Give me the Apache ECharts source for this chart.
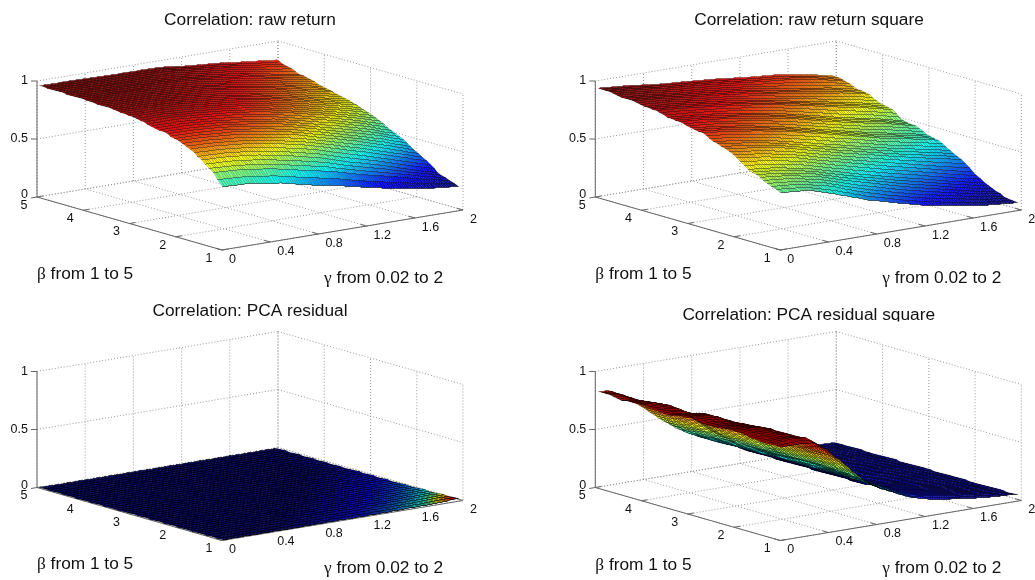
<!DOCTYPE html>
<html><head><meta charset="utf-8">
<style>html,body{margin:0;padding:0;background:#fff}#c{width:1035px;height:580px}</style>
<script src="https://cdn.jsdelivr.net/npm/echarts@6/dist/echarts.min.js"></script>
</head><body><div id="c"></div>
<script>
// Tick labels
const betaTicks = [1, 2, 3, 4, 5];
const gammaTicks = [0, 0.4, 0.8, 1.2, 1.6, 2];
const zTicks = [0, 0.5, 1];
const titles = ['Correlation: raw return', 'Correlation: raw return square', 'Correlation: PCA residual', 'Correlation: PCA residual square'];

// Values. Rows follow the beta list, columns the gamma list of each panel.
// Series data holds only these read cells. The fine mesh facets are a draw-time bilinear shading
// between them (see renderItem), not measured values.
const betaRows = [5, 4.75, 4.5, 4.25, 4, 3.75, 3.5, 3.25, 3, 2.75, 2.5, 2.25, 2, 1.75, 1.5, 1.25, 1.05];
const betaRowsCoarse = [5, 4.5, 4, 3.5, 3, 2.5, 2, 1.5, 1.05];
const gammaCols = [0.02, 0.25, 0.5, 0.75, 1, 1.25, 1.5, 1.75, 1.98];
const gammaColsFine = [0.02, 0.1, 0.2, 0.3, 0.4, 0.55, 0.7, 0.85, 1.1, 1.25, 1.5, 1.75, 1.98];

const rawReturn = [
  [.96,.96,.955,.95,.95,.92,.90,.87,.845],
  [.958,.958,.953,.948,.945,.915,.89,.85,.82],
  [.955,.955,.95,.945,.93,.90,.87,.82,.78],
  [.953,.953,.948,.94,.925,.89,.855,.805,.76],
  [.95,.95,.945,.93,.91,.87,.83,.78,.73],
  [.945,.945,.937,.92,.90,.86,.815,.76,.71],
  [.94,.94,.93,.91,.88,.84,.79,.73,.68],
  [.933,.932,.92,.895,.87,.825,.77,.71,.655],
  [.92,.92,.905,.88,.85,.80,.74,.68,.62],
  [.905,.905,.885,.86,.825,.77,.71,.645,.575],
  [.88,.88,.86,.83,.79,.73,.67,.60,.52],
  [.86,.855,.835,.80,.755,.69,.62,.55,.47],
  [.83,.82,.80,.76,.71,.64,.57,.49,.41],
  [.785,.775,.75,.705,.65,.575,.50,.42,.345],
  [.72,.71,.68,.63,.57,.49,.42,.34,.27],
  [.64,.625,.59,.535,.48,.41,.35,.285,.235],
  [.54,.53,.49,.43,.38,.32,.27,.23,.205]
];
const rawSquare = [
  [.94,.92,.89,.87,.85,.82,.80,.76,.705],
  [.935,.915,.885,.865,.84,.81,.785,.745,.69],
  [.92,.90,.87,.85,.82,.78,.74,.70,.65],
  [.915,.895,.865,.84,.81,.765,.725,.685,.635],
  [.895,.88,.85,.82,.78,.73,.68,.63,.58],
  [.89,.87,.84,.81,.77,.72,.665,.615,.56],
  [.86,.84,.81,.77,.72,.66,.60,.55,.49],
  [.85,.83,.795,.755,.705,.64,.585,.535,.475],
  [.825,.80,.76,.71,.65,.59,.53,.48,.43],
  [.81,.785,.745,.695,.635,.575,.51,.46,.41],
  [.765,.735,.69,.63,.57,.51,.45,.40,.35],
  [.73,.70,.655,.59,.525,.465,.405,.35,.30],
  [.68,.65,.60,.53,.465,.40,.34,.275,.22],
  [.61,.585,.535,.465,.395,.33,.27,.205,.16],
  [.57,.545,.495,.415,.345,.275,.215,.155,.11],
  [.52,.50,.44,.35,.275,.21,.16,.11,.08],
  [.49,.47,.39,.30,.23,.165,.12,.085,.065]
];
const pcaResidual = [
  [.001,.001,.001,.001,.001,.001,.001,.001,.001],
  [.001,.001,.001,.001,.001,.001,.001,.001,.001],
  [.001,.001,.001,.001,.001,.001,.001,.001,.002],
  [.001,.001,.001,.001,.001,.001,.001,.001,.002],
  [.001,.001,.001,.001,.001,.001,.001,.002,.003],
  [.001,.001,.001,.001,.001,.001,.002,.003,.004],
  [.001,.001,.001,.001,.001,.002,.003,.004,.006],
  [.001,.001,.001,.001,.002,.003,.004,.006,.010],
  [.001,.001,.001,.002,.003,.004,.006,.010,.020]
];
const pcaSquare = [
  [.83,.82,.76,.70,.62,.49,.38,.30,.20,.11,.08,.06,.05],
  [.83,.82,.77,.70,.62,.49,.38,.30,.20,.11,.08,.06,.05],
  [.81,.80,.77,.71,.63,.50,.39,.30,.20,.11,.085,.065,.055],
  [.82,.82,.78,.72,.64,.51,.40,.31,.20,.11,.08,.06,.05],
  [.83,.83,.80,.74,.66,.53,.41,.31,.20,.11,.08,.065,.05],
  [.81,.81,.79,.73,.65,.52,.41,.31,.20,.11,.085,.06,.055],
  [.80,.80,.78,.74,.66,.53,.42,.32,.20,.11,.08,.06,.05],
  [.82,.82,.81,.76,.68,.55,.42,.32,.20,.11,.08,.065,.05],
  [.83,.83,.82,.77,.69,.56,.43,.32,.20,.11,.085,.06,.055],
  [.81,.81,.80,.77,.69,.56,.43,.32,.20,.11,.08,.06,.05],
  [.81,.81,.81,.78,.70,.57,.43,.32,.20,.11,.08,.065,.05],
  [.82,.83,.82,.79,.71,.58,.43,.33,.20,.12,.085,.06,.055],
  [.83,.84,.83,.80,.72,.58,.43,.33,.20,.13,.09,.06,.05],
  [.81,.82,.82,.80,.72,.58,.43,.32,.20,.14,.095,.065,.05],
  [.80,.81,.81,.80,.72,.58,.42,.32,.19,.145,.10,.07,.055],
  [.80,.81,.82,.81,.73,.58,.42,.31,.19,.15,.105,.075,.05],
  [.80,.80,.80,.79,.71,.56,.40,.30,.18,.14,.098,.07,.058]
];
const panelData = [rawReturn, rawSquare, pcaResidual, pcaSquare];
const panelGamma = [gammaCols, gammaCols, gammaCols, gammaColsFine];
const panelBeta = [betaRows, betaRows, betaRowsCoarse, betaRows];

// Layout of the four panels and the 3D view
const PANEL_X = [0, 558.3, 0, 558.3], PANEL_Y = [0, 0, 290.5, 290.5];
const PW = 476, PH = 289;
const FRONT = [222, 250], BETA_V = [-185, -53], GAMMA_V = [241, -40], Z_H = 116;
function proj(g, b, z) {
  const f = g / 2, t = (b - 1) / 4;
  return [FRONT[0] + BETA_V[0] * t + GAMMA_V[0] * f, FRONT[1] + BETA_V[1] * t + GAMMA_V[1] * f - Z_H * z];
}
const STEP_G = 0.02, STEP_B = 0.1;   // mesh facet size of the drawn surface
const EDGE_ALPHA = [0.26, 0.26, 0.55, 0.3];
const ROW_ALPHA = [0.55, 0.55, 0.6, 0.6];

function jet(v) {
  v = Math.max(0, Math.min(1, v));
  const c = x => Math.round(255 * Math.max(0, Math.min(1, 1.5 - Math.abs(4 * v - x))));
  return 'rgb(' + c(3) + ',' + c(2) + ',' + c(1) + ')';
}
const snap = p => [Math.round(p[0]) + 0.5, Math.round(p[1]) + 0.5];

const AXIS_C = '#666', DOT_C = '#9a9a9a';
function frameSegments() {
  const s = [], dot = 1, sol = 0;
  const add = (a, b, k) => s.push([a[0], a[1], b[0], b[1], k]);
  gammaTicks.forEach(g => {
    add(proj(g, 1, 0), proj(g, 5, 0), dot);
    add(proj(g, 5, 0), proj(g, 5, 1), dot);
  });
  betaTicks.forEach(b => {
    add(proj(0, b, 0), proj(2, b, 0), dot);
    add(proj(2, b, 0), proj(2, b, 1), dot);
  });
  zTicks.forEach(z => {
    add(proj(0, 5, z), proj(2, 5, z), dot);
    add(proj(2, 5, z), proj(2, 1, z), dot);
  });
  add(proj(0, 5, 0), proj(0, 5, 1), sol);
  add(proj(0, 5, 0), proj(0, 1, 0), sol);
  add(proj(0, 1, 0), proj(2, 1, 0), sol);
  zTicks.forEach(z => { const p = proj(0, 5, z); add(p, [p[0] - 6, p[1] + (z === 0 ? 1 : 0)], sol); });
  betaTicks.forEach(b => { const p = proj(0, b, 0); add(p, [p[0] + 6, p[1] - 1], sol); });
  gammaTicks.forEach(g => { const p = proj(g, 1, 0); add(p, [p[0] - 6, p[1] - 1.7], sol); });
  return s;
}
function tickTexts() {
  const t = [];
  zTicks.forEach(z => { const p = proj(0, 5, z); t.push([p[0] - 9, p[1] - (z === 0 ? 2 : 0), String(z), 'right']); });
  betaTicks.forEach(b => { const p = proj(0, b, 0); t.push([p[0] - 13, p[1] + 8.5, String(b), 'center']); });
  gammaTicks.forEach(g => { const p = proj(g, 1, 0); t.push([p[0] + 7, p[1] + 9.5, String(g), 'left']); });
  return t;
}

const grid = [], xAxis = [], yAxis = [], series = [], title = [], graphic = [];
const TITLE_X = [250, 809, 250, 808.7], TITLE_TOP = [12, 12, 303, 307];
const LABEL_Y = [[276, 279.5], [276, 279.5], [566, 570], [567, 570]];

panelData.forEach((table, pi) => {
  const gs = panelGamma[pi], bs = panelBeta[pi];
  const flat = table.flat(), zMin = Math.min(...flat), zMax = Math.max(...flat);
  grid.push({ left: PANEL_X[pi], top: PANEL_Y[pi], width: PW, height: PH });
  xAxis.push({ gridIndex: pi, type: 'value', min: 0, max: PW, show: false });
  yAxis.push({ gridIndex: pi, type: 'value', min: 0, max: PH, inverse: true, show: false });
  title.push({ text: titles[pi], left: TITLE_X[pi], top: TITLE_TOP[pi], textAlign: 'center', padding: 0,
    textStyle: { fontFamily: 'Liberation Sans', fontSize: 17.3, fontWeight: 'normal', color: '#111' } });

  series.push({
    type: 'custom', xAxisIndex: pi, yAxisIndex: pi, coordinateSystem: 'cartesian2d', silent: true, clip: false, z: 1,
    data: frameSegments(), encode: { x: 0, y: 1 },
    renderItem(p, api) {
      const a = api.coord([api.value(0), api.value(1)]), b = api.coord([api.value(2), api.value(3)]);
      const dotted = api.value(4) === 1;
      return { type: 'line', shape: { x1: a[0], y1: a[1], x2: b[0], y2: b[1] },
        style: { stroke: dotted ? DOT_C : AXIS_C, lineWidth: 1, lineDash: dotted ? [1, 2] : null } };
    }
  });
  series.push({
    type: 'custom', xAxisIndex: pi, yAxisIndex: pi, coordinateSystem: 'cartesian2d', silent: true, clip: false, z: 2,
    data: tickTexts(), encode: { x: 0, y: 1 },
    renderItem(p, api) {
      const a = api.coord([api.value(0), api.value(1)]);
      return { type: 'text', x: a[0], y: a[1], style: { text: api.value(2), align: api.value(3), verticalAlign: 'middle',
        font: '12.5px "Liberation Sans"', fill: '#111' } };
    },
    dimensions: ['x', 'y', { name: 's', type: 'ordinal' }, { name: 'a', type: 'ordinal' }]
  });

  // One data item per cell of the read table, back corner first so nearer facets paint over farther ones.
  const cells = [];
  for (let r = 0; r < bs.length - 1; r++)
    for (let c = gs.length - 2; c >= 0; c--)
      cells.push([r, c]);
  const edge = 'rgba(0,0,0,' + EDGE_ALPHA[pi] + ')', rowEdge = 'rgba(0,0,0,' + ROW_ALPHA[pi] + ')';
  series.push({
    type: 'custom', xAxisIndex: pi, yAxisIndex: pi, coordinateSystem: 'cartesian2d', silent: true, clip: false, z: 3,
    progressive: 0, animation: false, data: cells, encode: { x: 0, y: 1 },
    renderItem(p, api) {
      const r = api.value(0), c = api.value(1);
      const b0 = bs[r], b1 = bs[r + 1], g0 = gs[c], g1 = gs[c + 1];
      const z00 = table[r][c], z01 = table[r][c + 1], z10 = table[r + 1][c], z11 = table[r + 1][c + 1];
      const nb = Math.max(1, Math.round((b0 - b1) / STEP_B)), ng = Math.max(1, Math.round((g1 - g0) / STEP_G));
      const zAt = (u, v) => (z00 * (1 - u) + z01 * u) * (1 - v) + (z10 * (1 - u) + z11 * u) * v;
      const pt = (u, v) => snap(api.coord(proj(g0 + (g1 - g0) * u, b0 + (b1 - b0) * v, zAt(u, v))));
      const children = [];
      for (let j = 0; j < nb; j++) for (let i = ng - 1; i >= 0; i--) {
        const u0 = i / ng, u1 = (i + 1) / ng, v0 = j / nb, v1 = (j + 1) / nb;
        const col = jet((zAt(u0, v1) - zMin) / (zMax - zMin));
        const a = pt(u0, v1), b = pt(u1, v1);
        children.push({ type: 'polygon', shape: { points: [pt(u0, v0), pt(u1, v0), b, a] },
          style: { fill: col, stroke: edge, lineWidth: 0.8 } });
        children.push({ type: 'line', shape: { x1: a[0], y1: a[1], x2: b[0], y2: b[1] },
          style: { stroke: rowEdge, lineWidth: 0.8 } });
      }
      return { type: 'group', children };
    }
  });
  const cap = (x, yy, greek, rest) => ({
    type: 'text', left: PANEL_X[pi] + x, top: yy - 10, z: 20, silent: true,
    style: { text: '{g|' + greek + '}{t| ' + rest + '}', rich: {
      g: { font: '17.3px "Liberation Serif"', fill: '#111' }, t: { font: '17.3px "Liberation Sans"', fill: '#111' } } }
  });
  graphic.push(cap(37, LABEL_Y[pi][0], 'β', 'from 1 to 5'), cap(324, LABEL_Y[pi][1], 'γ', 'from 0.02 to 2'));
});

// the fourth title is cut off along its lower edge in the reference
graphic.push({ type: 'rect', left: 660, top: 321.5, z: 30, silent: true, shape: { width: 300, height: 6 }, style: { fill: '#fff' } });

const chart = echarts.init(document.getElementById('c'), null, { renderer: 'canvas' });
chart.setOption({ animation: false, backgroundColor: '#fff', title, grid, xAxis, yAxis, series, graphic, tooltip: { show: false } });
</script></body></html>
